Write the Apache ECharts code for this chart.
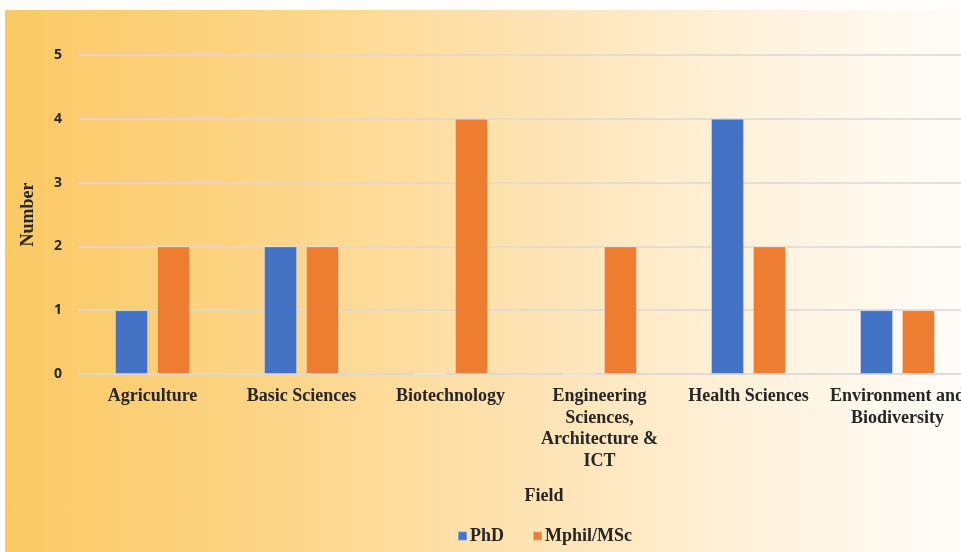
<!DOCTYPE html>
<html>
<head>
<meta charset="utf-8">
<script src="https://cdn.jsdelivr.net/npm/echarts@6/dist/echarts.min.js"></script>
<style>
  html, body { margin: 0; padding: 0; width: 961px; height: 552px; overflow: hidden; background: #fffdfb; }
  .panel {
    position: absolute; left: 5px; top: 10px; width: 956px; height: 542px;
    background: linear-gradient(to right, #fbc964 0%, #fdd68a 30%, #fee6bb 60%, #fff3df 80%, #fffcf8 100%);
  }
  #chart { position: absolute; left: 0; top: 0; width: 972px; height: 552px; }
</style>
</head>
<body>
<div class="panel"></div>
<div id="chart"></div>
<script>
// field categories
const fields = [
  'Agriculture',
  'Basic Sciences',
  'Biotechnology',
  'Engineering\nSciences,\nArchitecture &\nICT',
  'Health Sciences',
  'Environment and\nBiodiversity'
]
const phd = [1, 2, 0, 0, 4, 1]
const mphil = [2, 2, 4, 2, 2, 1]
const yTicks = [0, 1, 2, 3, 4, 5]

const serif = '"Liberation Serif", "Times New Roman", serif'
const textColor = '#262626'

const chart = echarts.init(document.getElementById('chart'))

const option = {
  animation: false,
  backgroundColor: 'transparent',
  grid: { left: 78, right: 0, top: 55, bottom: 178 },
  legend: {
    left: 452,
    top: 522,
    itemWidth: 9,
    itemHeight: 9,
    itemGap: 28,
    icon: 'rect',
    textStyle: { fontFamily: serif, fontWeight: 'bold', fontSize: 18, color: textColor, padding: [0, 0, 0, -2] },
    data: ['PhD', 'Mphil/MSc']
  },
  xAxis: {
    type: 'category',
    data: fields,
    name: 'Field',
    nameLocation: 'middle',
    nameGap: 113,
    nameTextStyle: { fontFamily: serif, fontWeight: 'bold', fontSize: 18, color: textColor, padding: [0, 0, 0, 38] },
    axisLine: { lineStyle: { color: '#d9d9d9', width: 1.5 } },
    axisTick: { show: false },
    axisLabel: {
      interval: 0,
      margin: 12,
      fontFamily: serif,
      fontWeight: 'bold',
      fontSize: 18,
      lineHeight: 21.5,
      color: textColor
    }
  },
  yAxis: {
    type: 'value',
    min: yTicks[0],
    max: yTicks[yTicks.length - 1],
    interval: 1,
    name: 'Number',
    nameLocation: 'middle',
    nameGap: 41,
    nameTextStyle: { fontFamily: serif, fontWeight: 'bold', fontSize: 18, color: textColor },
    axisLine: { show: false },
    axisTick: { show: false },
    splitLine: { lineStyle: { color: '#d9d9d9', width: 1.5 } },
    axisLabel: {
      margin: 16,
      fontFamily: '"Open Sans", sans-serif',
      fontWeight: 'bold',
      fontSize: 14,
      color: textColor
    }
  },
  series: [
    {
      name: 'PhD',
      type: 'bar',
      data: phd,
      barWidth: 33,
      barGap: '27%',
      itemStyle: { color: '#4472c4', borderColor: 'rgba(255,255,255,0.3)', borderWidth: 1 }
    },
    {
      name: 'Mphil/MSc',
      type: 'bar',
      data: mphil,
      barWidth: 33,
      barGap: '27%',
      itemStyle: { color: '#ed7d31', borderColor: 'rgba(255,255,255,0.3)', borderWidth: 1 }
    }
  ]
}

chart.setOption(option)
</script>
</body>
</html>
